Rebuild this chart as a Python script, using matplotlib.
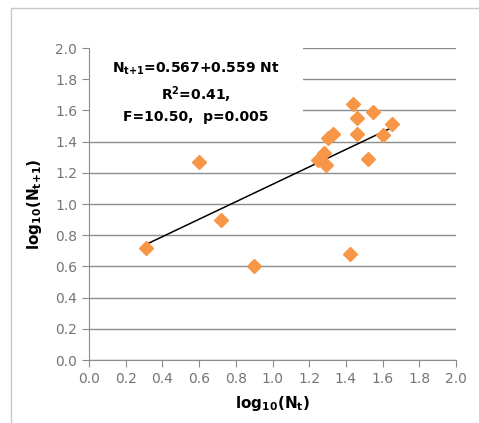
import numpy as np
import matplotlib.pyplot as plt
from matplotlib.patches import Rectangle

# log10(N_t) and log10(N_t+1)
log_nt = [0.31, 0.60, 0.72, 0.90, 1.25, 1.28, 1.29, 1.30, 1.33, 1.42,
          1.44, 1.46, 1.46, 1.52, 1.55, 1.60, 1.65]
log_nt1 = [0.72, 1.27, 0.90, 0.60, 1.28, 1.33, 1.25, 1.42, 1.45, 0.68,
           1.64, 1.55, 1.45, 1.29, 1.59, 1.44, 1.51]

intercept = 0.567
slope = 0.559
ticks = [0.0, 0.2, 0.4, 0.6, 0.8, 1.0, 1.2, 1.4, 1.6, 1.8, 2.0]

orange = "#F79646"
grid_c = "#8c8c8c"
tick_c = "#757575"

fig = plt.figure(figsize=(4.79, 4.23), dpi=100)
fig.patches.append(Rectangle((11 / 479, -0.01), 1.0, 1 - 8 / 423 + 0.01,
                             transform=fig.transFigure, fill=False,
                             edgecolor="#c8c8c8", linewidth=1.0))
ax = fig.add_axes([89 / 479, 63 / 423, 367 / 479, 312 / 423])

ax.set_xlim(0, 2.0)
ax.set_ylim(0, 2.0)
ax.set_xticks(ticks)
ax.set_yticks(ticks)
ax.set_xticklabels([f"{t:.1f}" for t in ticks])
ax.set_yticklabels([f"{t:.1f}" for t in ticks])
ax.set_axisbelow(True)
ax.yaxis.grid(True, color=grid_c, linewidth=1.0)
for s in ["top", "right"]:
    ax.spines[s].set_visible(False)
for s in ["left", "bottom"]:
    ax.spines[s].set_color(grid_c)
ax.tick_params(direction="out", length=5, color=grid_c, labelcolor=tick_c,
               labelsize=10)

# white box behind the equation hides the gridlines
ax.add_patch(Rectangle((0.004, 1.5), 1.16, 0.52, facecolor="white",
                       edgecolor="none", zorder=1, clip_on=False))

xf = np.array([min(log_nt), max(log_nt)])
ax.plot(xf, intercept + slope * xf, color="black", linewidth=1.1, zorder=2)
ax.plot(log_nt, log_nt1, linestyle="none", marker="D", markersize=7.5,
        color=orange, zorder=3)

txt = ("$\\mathbf{N_{t{+}1}}$=0.567+0.559 Nt\n"
       "$\\mathbf{R^2}$=0.41,\n"
       "F=10.50,  p=0.005")
ax.text(0.58, 1.715, txt, ha="center", va="center", fontsize=10,
        fontweight="bold", linespacing=1.45, zorder=4)

ax.set_xlabel("$\\mathbf{log_{10}(N_t)}$", fontsize=11, labelpad=6)
ax.set_ylabel("$\\mathbf{log_{10}(N_{t{+}1})}$", fontsize=11, labelpad=8)

fig.savefig("out.png", dpi=100)
